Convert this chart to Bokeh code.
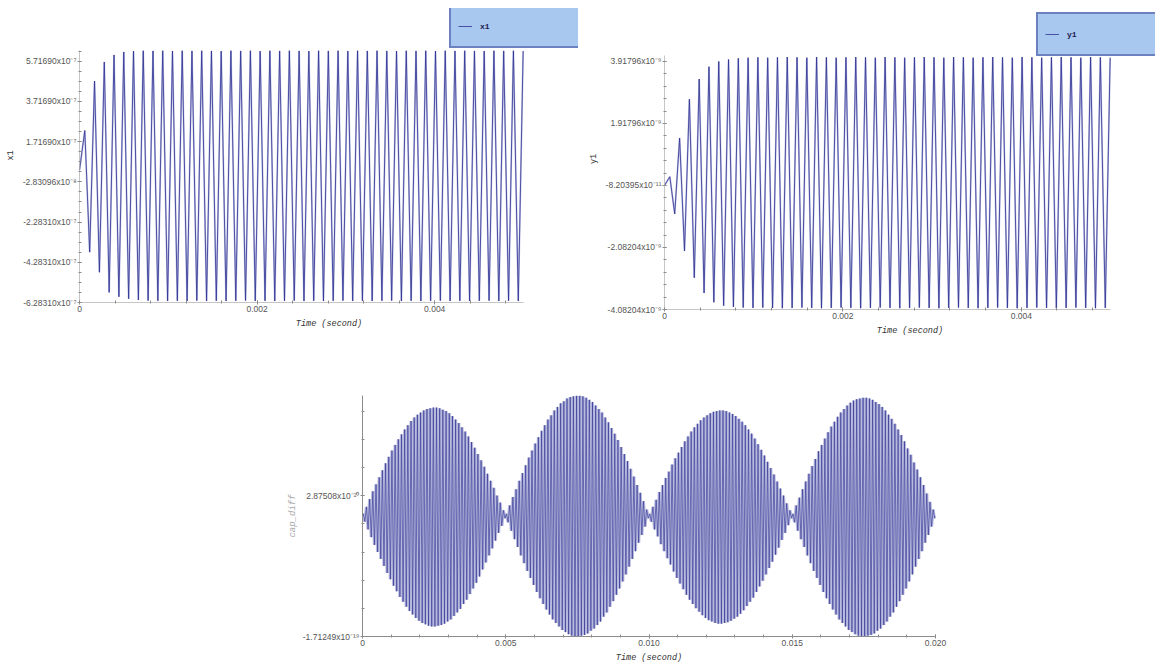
import numpy as np
from bokeh.plotting import figure
from bokeh.layouts import column, row
from bokeh.models import (FixedTicker, CustomJSTickFormatter, Legend, LegendItem,
                          Range1d)
from bokeh.embed import file_html
from bokeh.resources import INLINE

# ---------------- data ----------------
# x1: successive maxima / minima of the oscillation (units of 1e-7)
x1_scale = 1e-7
x1_start = 0.3
x1_peaks = [2.27, 4.73, 5.68, 6.03, 6.18, 6.22, 6.24, 6.23, 6.24, 6.22, 6.24, 6.23,
            6.24, 6.23, 6.22, 6.24, 6.23, 6.24, 6.22, 6.24, 6.23, 6.24, 6.23, 6.22,
            6.24, 6.23, 6.24, 6.22, 6.24, 6.23, 6.24, 6.23, 6.22, 6.24, 6.23, 6.24,
            6.22, 6.24, 6.23, 6.24, 6.23, 6.22, 6.24, 6.23, 6.24, 6.22]
x1_troughs = [-3.78, -4.78, -5.78, -6.00, -6.10, -6.16, -6.19, -6.20, -6.21, -6.20,
              -6.21, -6.19, -6.21, -6.20, -6.21, -6.20, -6.19, -6.21, -6.20, -6.21,
              -6.20, -6.19, -6.21, -6.20, -6.21, -6.20, -6.19, -6.21, -6.20, -6.21,
              -6.20, -6.19, -6.21, -6.20, -6.21, -6.20, -6.19, -6.21, -6.20, -6.21,
              -6.20, -6.19, -6.21, -6.20, -6.21]

# y1: successive maxima / minima (units of 1e-9)
y1_scale = 1e-9
y1_start = -0.08
y1_peaks = [0.20, 1.45, 2.70, 3.35, 3.75, 3.92, 3.98, 4.02, 4.04, 4.05, 4.04, 4.05,
            4.06, 4.05, 4.04, 4.06, 4.05, 4.04, 4.05, 4.06, 4.05, 4.04, 4.06, 4.05,
            4.04, 4.05, 4.06, 4.05, 4.04, 4.06, 4.05, 4.04, 4.05, 4.06, 4.05, 4.04,
            4.06, 4.05, 4.04, 4.05, 4.06, 4.05, 4.04, 4.06, 4.05, 4.04]
y1_troughs = [-1.00, -2.19, -3.06, -3.55, -3.85, -3.96, -4.00, -4.02, -4.03, -4.02,
              -4.03, -4.04, -4.03, -4.02, -4.03, -4.04, -4.03, -4.02, -4.03, -4.04,
              -4.03, -4.02, -4.03, -4.04, -4.03, -4.02, -4.03, -4.04, -4.03, -4.02,
              -4.03, -4.04, -4.03, -4.02, -4.03, -4.04, -4.03, -4.02, -4.03, -4.04,
              -4.03, -4.02, -4.03, -4.04, -4.03]

# timing of the top oscillations (seconds)
top_first_peak = 0.0597e-3
top_period = 0.1097e-3
top_t_end = 0.005

# cap_diff: maxima / minima in each of the four beat lobes (units of 1e-19)
cap_scale = 1e-19
cap_lobe_starts = [0.0, 0.005, 0.010, 0.015]
cap_end = 0.020
cap_peaks_1 = [0.03, 0.13, 0.24, 0.35, 0.45, 0.55, 0.65, 0.75, 0.84, 0.93, 1.01, 1.09,
               1.16, 1.23, 1.29, 1.35, 1.40, 1.44, 1.47, 1.50, 1.52, 1.53, 1.54, 1.54,
               1.53, 1.51, 1.49, 1.46, 1.42, 1.37, 1.32, 1.26, 1.20, 1.13, 1.05, 0.97,
               0.88, 0.79, 0.70, 0.60, 0.50, 0.40, 0.29, 0.19, 0.08]
cap_troughs_1 = [-0.08, -0.19, -0.30, -0.41, -0.51, -0.61, -0.71, -0.81, -0.90, -0.99,
                 -1.07, -1.15, -1.22, -1.29, -1.35, -1.40, -1.45, -1.49, -1.52, -1.54,
                 -1.56, -1.57, -1.57, -1.56, -1.55, -1.53, -1.50, -1.47, -1.42, -1.37,
                 -1.32, -1.25, -1.19, -1.11, -1.03, -0.95, -0.86, -0.76, -0.66, -0.56,
                 -0.46, -0.35, -0.24, -0.14, -0.03]
cap_peaks_2 = [0.03, 0.15, 0.27, 0.38, 0.50, 0.61, 0.72, 0.83, 0.93, 1.03, 1.12, 1.21,
               1.29, 1.37, 1.43, 1.50, 1.55, 1.60, 1.63, 1.67, 1.69, 1.70, 1.71, 1.71,
               1.70, 1.68, 1.65, 1.62, 1.57, 1.52, 1.47, 1.40, 1.33, 1.25, 1.17, 1.08,
               0.98, 0.88, 0.78, 0.67, 0.56, 0.44, 0.33, 0.21, 0.09]
cap_troughs_2 = [-0.09, -0.21, -0.33, -0.44, -0.56, -0.67, -0.78, -0.88, -0.98, -1.08,
                 -1.17, -1.25, -1.33, -1.40, -1.47, -1.52, -1.57, -1.62, -1.65, -1.68,
                 -1.70, -1.71, -1.71, -1.70, -1.69, -1.67, -1.63, -1.60, -1.55, -1.50,
                 -1.43, -1.37, -1.29, -1.21, -1.12, -1.03, -0.93, -0.83, -0.72, -0.61,
                 -0.50, -0.38, -0.27, -0.15, -0.03]
cap_peaks_3 = [0.03, 0.13, 0.23, 0.34, 0.44, 0.54, 0.63, 0.73, 0.82, 0.90, 0.98, 1.06,
               1.13, 1.20, 1.26, 1.31, 1.36, 1.40, 1.43, 1.46, 1.48, 1.49, 1.50, 1.50,
               1.49, 1.47, 1.45, 1.42, 1.38, 1.34, 1.29, 1.23, 1.17, 1.10, 1.02, 0.94,
               0.86, 0.77, 0.68, 0.59, 0.49, 0.39, 0.29, 0.18, 0.08]
cap_troughs_3 = [-0.08, -0.19, -0.29, -0.40, -0.50, -0.60, -0.69, -0.79, -0.88, -0.96,
                 -1.04, -1.12, -1.19, -1.25, -1.31, -1.36, -1.41, -1.45, -1.48, -1.50,
                 -1.52, -1.53, -1.53, -1.52, -1.51, -1.49, -1.46, -1.43, -1.39, -1.34,
                 -1.28, -1.22, -1.16, -1.08, -1.00, -0.92, -0.83, -0.74, -0.65, -0.55,
                 -0.45, -0.34, -0.24, -0.13, -0.03]
cap_peaks_4 = [0.03, 0.15, 0.26, 0.38, 0.49, 0.60, 0.71, 0.81, 0.92, 1.01, 1.10, 1.19,
               1.27, 1.34, 1.41, 1.47, 1.52, 1.57, 1.61, 1.64, 1.66, 1.67, 1.68, 1.68,
               1.67, 1.65, 1.62, 1.59, 1.55, 1.50, 1.44, 1.38, 1.31, 1.23, 1.15, 1.06,
               0.96, 0.87, 0.76, 0.66, 0.55, 0.44, 0.32, 0.20, 0.09]
cap_troughs_4 = [-0.09, -0.21, -0.33, -0.44, -0.56, -0.67, -0.78, -0.88, -0.98, -1.08,
                 -1.17, -1.25, -1.33, -1.40, -1.47, -1.52, -1.57, -1.62, -1.65, -1.68,
                 -1.70, -1.71, -1.71, -1.70, -1.69, -1.67, -1.63, -1.60, -1.55, -1.50,
                 -1.43, -1.37, -1.29, -1.21, -1.12, -1.03, -0.93, -0.83, -0.72, -0.61,
                 -0.50, -0.38, -0.27, -0.15, -0.03]

# axis ticks and labels
x1_yticks = [-6.2831e-7, -4.2831e-7, -2.2831e-7, -2.83096e-8, 1.7169e-7, 3.7169e-7, 5.7169e-7]
x1_ylabels = ["-6.28310x10\u207b\u2077", "-4.28310x10\u207b\u2077", "-2.28310x10\u207b\u2077",
              "-2.83096x10\u207b\u2078", "1.71690x10\u207b\u2077", "3.71690x10\u207b\u2077",
              "5.71690x10\u207b\u2077"]
y1_yticks = [-4.08204e-9, -2.08204e-9, -8.20395e-11, 1.91796e-9, 3.91796e-9]
y1_ylabels = ["-4.08204x10\u207b\u2079", "-2.08204x10\u207b\u2079", "-8.20395x10\u207b\u00b9\u00b9",
              "1.91796x10\u207b\u2079", "3.91796x10\u207b\u2079"]
cap_yticks = [-1.71249e-19, 2.87508e-20]
cap_ylabels = ["-1.71249x10\u207b\u00b9\u2079", "2.87508x10\u207b\u00b2\u2070"]
top_xticks = [0.0, 0.002, 0.004]
top_xlabels = ["0", "0.002", "0.004"]
cap_xticks = [0.0, 0.005, 0.010, 0.015, 0.020]
cap_xlabels = ["0", "0.005", "0.010", "0.015", "0.020"]

# ---------------- helpers ----------------
LINE = "#2d3190"
HALO = "#c3c5e6"
AXIS = "#8c8c8c"
TICKFONT = "Liberation Sans"
MONO = "Liberation Mono"


def osc_series(t_first, period, start, peaks, troughs, scale):
    t = [0.0]
    v = [start * scale]
    for k in range(len(peaks)):
        tp = t_first + k * period
        t.append(tp)
        v.append(peaks[k] * scale)
        if k < len(troughs):
            t.append(tp + period / 2)
            v.append(troughs[k] * scale)
    return t, v


def fmt(tick_values, tick_texts):
    return CustomJSTickFormatter(args=dict(tv=tick_values, tl=tick_texts), code="""
        let best = 0;
        for (let i = 0; i < tv.length; i++) {
            if (Math.abs(tv[i] - tick) < Math.abs(tv[best] - tick)) best = i;
        }
        return tl[best];
    """)


def style_axes(p, xlabel, ylabel, ylabel_color="#333333", ylabel_style="normal"):
    for ax in (p.xaxis[0], p.yaxis[0]):
        ax.axis_line_color = AXIS
        ax.major_tick_line_color = AXIS
        ax.minor_tick_line_color = AXIS
        ax.major_tick_in = 2
        ax.major_tick_out = 2
        ax.minor_tick_in = 2
        ax.minor_tick_out = 1
        ax.major_label_text_font = TICKFONT
        ax.major_label_text_font_size = "8.5px"
        ax.major_label_text_color = "#555555"
        ax.major_label_standoff = 1
        ax.axis_label_text_font = MONO
        ax.axis_label_text_font_size = "8.5px"
        ax.axis_label_text_color = "#333333"
        ax.axis_label_standoff = 4
    p.xaxis[0].axis_label = xlabel
    p.xaxis[0].axis_label_text_font_style = "italic"
    p.xaxis[0].axis_label_standoff = 4
    p.yaxis[0].axis_label = ylabel
    p.yaxis[0].axis_label_text_color = ylabel_color
    p.yaxis[0].axis_label_text_font_style = ylabel_style
    p.xgrid.visible = False
    p.ygrid.visible = False
    p.outline_line_color = None


def make_legend(p, r, label, loc):
    leg = Legend(items=[LegendItem(label=label, renderers=[r])], location=loc,
                 border_line_color="#2e3a8f", border_line_width=2,
                 background_fill_color="#a8c8f0", background_fill_alpha=1.0,
                 padding=7, spacing=0, margin=0, glyph_width=14, glyph_height=26,
                 label_standoff=8, label_width=200, label_height=26,
                 label_text_font=MONO, label_text_font_style="bold",
                 label_text_font_size="8px", label_text_color="#1c1c50")
    p.add_layout(leg)


def draw_wave(p, t, v, width, halo_width, halo_color=HALO):
    p.line(t, v, line_color=halo_color, line_width=halo_width)
    return p.line(t, v, line_color=LINE, line_width=width)


def axis_lines(p, x0, x1, y0, y1):
    # visible axis lines only over the data extent (frame also holds the legend)
    p.xaxis[0].axis_line_color = None
    p.yaxis[0].axis_line_color = None
    p.segment(x0=[x0, x0], y0=[y0, y0], x1=[x0, x1], y1=[y1, y0],
              line_color=AXIS, line_width=1)


# ---------------- figure 1 : x1 ----------------
# frame spans the data area plus the legend strip above it and to the right
p1 = figure(title=None, frame_width=499, frame_height=294, output_backend="svg",
            toolbar_location=None,
            x_range=Range1d(0, 0.0056194), y_range=Range1d(-6.2831e-7, 8.339e-7),
            min_border_left=79, min_border_right=0, min_border_top=8, min_border_bottom=30)
t1, v1 = osc_series(top_first_peak, top_period, x1_start, x1_peaks, x1_troughs, x1_scale)
r1 = draw_wave(p1, t1, v1, 0.8, 1.8)
p1.yaxis[0].ticker = FixedTicker(ticks=x1_yticks,
                                 minor_ticks=list(np.arange(-6.2831e-7, 6.26e-7, 5e-8)))
p1.yaxis[0].formatter = fmt(x1_yticks, x1_ylabels)
p1.xaxis[0].ticker = FixedTicker(ticks=top_xticks,
                                 minor_ticks=list(np.arange(0, 0.00501, 0.0004)))
p1.xaxis[0].formatter = fmt(top_xticks, top_xlabels)
style_axes(p1, "Time (second)", "x1")
axis_lines(p1, 0.0, top_t_end, -6.2831e-7, 6.25e-7)
make_legend(p1, r1, "x1", (370, 254))

# ---------------- figure 2 : y1 ----------------
p2 = figure(title=None, frame_width=491, frame_height=301, output_backend="svg",
            toolbar_location=None,
            x_range=Range1d(0, 0.0055045), y_range=Range1d(-4.08204e-9, 5.626e-9),
            min_border_left=86, min_border_right=0, min_border_top=8, min_border_bottom=30)
t2, v2 = osc_series(top_first_peak, top_period, y1_start, y1_peaks, y1_troughs, y1_scale)
r2 = draw_wave(p2, t2, v2, 0.8, 1.8)
p2.yaxis[0].ticker = FixedTicker(ticks=y1_yticks,
                                 minor_ticks=list(np.arange(-4.08204e-9, 4.12e-9, 4e-10)))
p2.yaxis[0].formatter = fmt(y1_yticks, y1_ylabels)
p2.xaxis[0].ticker = FixedTicker(ticks=top_xticks,
                                 minor_ticks=list(np.arange(0, 0.00501, 0.0004)))
p2.xaxis[0].formatter = fmt(top_xticks, top_xlabels)
style_axes(p2, "Time (second)", "y1")
axis_lines(p2, 0.0, top_t_end, -4.08204e-9, 4.11e-9)
make_legend(p2, r2, "y1", (372, 253))

# ---------------- figure 3 : cap_diff ----------------
p3 = figure(title=None, frame_width=573, frame_height=241, output_backend="svg",
            toolbar_location=None,
            x_range=Range1d(0, 0.020), y_range=Range1d(-1.71249e-19, 1.712e-19),
            min_border_left=362, min_border_right=220, min_border_top=56, min_border_bottom=28)
cap_period = 0.005 / len(cap_peaks_1)
t3 = [0.0]
v3 = [0.0]
for start, pk, tr in zip(cap_lobe_starts,
                         [cap_peaks_1, cap_peaks_2, cap_peaks_3, cap_peaks_4],
                         [cap_troughs_1, cap_troughs_2, cap_troughs_3, cap_troughs_4]):
    for j in range(len(pk)):
        t3.append(start + (j + 0.25) * cap_period)
        v3.append(pk[j] * cap_scale)
        t3.append(start + (j + 0.75) * cap_period)
        v3.append(tr[j] * cap_scale)
t3.append(cap_end)
v3.append(0.0)
draw_wave(p3, t3, v3, 0.6, 3.2, halo_color="#b8bade")
p3.yaxis[0].ticker = FixedTicker(ticks=cap_yticks,
                                 minor_ticks=list(np.arange(-1.71249e-19, 1.7e-19, 4e-20)))
p3.yaxis[0].formatter = fmt(cap_yticks, cap_ylabels)
p3.xaxis[0].ticker = FixedTicker(ticks=cap_xticks,
                                 minor_ticks=list(np.arange(0, 0.02001, 0.001)))
p3.xaxis[0].formatter = fmt(cap_xticks, cap_xlabels)
style_axes(p3, "Time (second)", "cap_diff", ylabel_color="#a8a8a8", ylabel_style="italic")
p3.yaxis[0].axis_label_text_font_size = "9px"
p3.yaxis[0].axis_label_standoff = 2

layout = column(row(p1, p2), p3)
open("out.html", "w").write(file_html(layout, INLINE))
